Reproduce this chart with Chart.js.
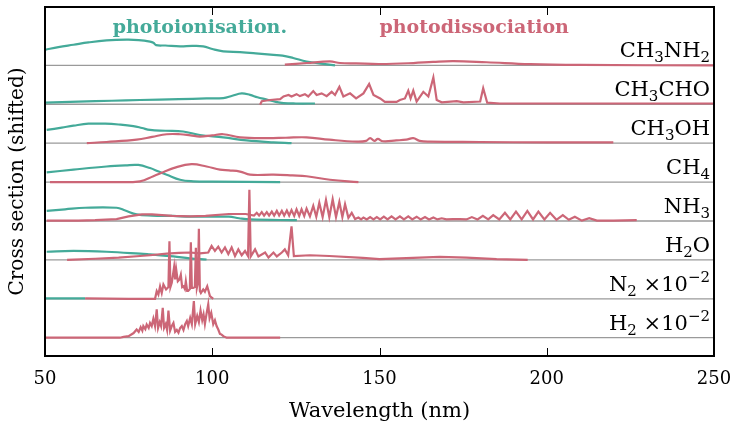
<!DOCTYPE html>
<html lang="en">
<head>
    <meta charset="UTF-8">
    <title>Cross sections (shifted)</title>
    <script src="https://cdn.jsdelivr.net/npm/chart.js"></script>
    <style>
        body {
            margin: 0;
            padding: 0;
            background-color: #fff;
        }
    </style>
</head>
<body>
    <canvas id="xsChart" width="734" height="425"></canvas>

    <script>
        // species from top to bottom, and their vertical shift
        const species = ['CH3NH2', 'CH3CHO', 'CH3OH', 'CH4', 'NH3', 'H2O', 'N2', 'H2'];
        const speciesLabels = ['CH_{3}NH_{2}', 'CH_{3}CHO', 'CH_{3}OH', 'CH_{4}', 'NH_{3}', 'H_{2}O',
                               'N_{2} \u00d710^{\u22122}', 'H_{2} \u00d710^{\u22122}'];
        const shifts = [7, 6, 5, 4, 3, 2, 1, 0];
        const wavelengthTicks = [50, 100, 150, 200, 250];

        // [wavelength (nm), cross section (shifted units)]
        const ch3nh2Ion = [[50,0.40],[54,0.47],[58.5,0.53],[63,0.59],[68.4,0.64],[74.4,0.66],[78,0.65],[81.4,0.61],[82.4,0.58],[83.2,0.52],[86,0.51],[90.4,0.49],[94,0.5],[97.3,0.49],[100,0.42],[103.3,0.36],[108.3,0.34],[113,0.31],[118.3,0.27],[121,0.25],[124.2,0.19],[128.2,0.1],[133.2,0.04],[136.7,0.0]];
        const ch3nh2Diss = [[121.7,0.02],[128.2,0.06],[135.2,0.1],[138.2,0.06],[143,0.05],[150.2,0.035],[160.1,0.06],[166,0.09],[172.1,0.11],[182,0.08],[195,0.03],[210,0.01],[249.8,0.0]];

        const ch3choIon = [[50,0.04],[60,0.07],[70,0.09],[78.4,0.11],[90,0.13],[98.3,0.15],[103.3,0.16],[106,0.22],[108.8,0.28],[111.3,0.24],[113.5,0.18],[116.3,0.12],[119,0.06],[121.3,0.03],[125,0.02],[130.7,0.02]];
        const ch3choDiss = [[114.3,-0.01],[114.8,0.08],[117.3,0.11],[120.3,0.13],[121.3,0.2],[122.8,0.24],[123.7,0.2],[125.2,0.26],[126.2,0.21],[127.7,0.26],[128.7,0.2],[130.2,0.34],[131.2,0.24],[132.7,0.28],[134.2,0.21],[135.7,0.32],[136.7,0.24],[138.0,0.45],[139.2,0.2],[141.2,0.28],[143.0,0.15],[145.2,0.28],[146.9,0.52],[148.2,0.24],[150.2,0.15],[151.6,0.06],[155.1,0.06],[156.1,0.11],[157.6,0.15],[158.6,0.35],[159.3,0.15],[160.1,0.35],[161.1,0.07],[163.1,0.32],[164.6,0.2],[166.1,0.69],[167.1,0.11],[168.6,0.05],[173.1,0.08],[175.1,0.05],[180.1,0.07],[181.0,0.41],[182.2,0.04],[186.0,0.02],[250,0.02]];

        const ch3ohIon = [[50.5,0.34],[55,0.4],[58.5,0.45],[63,0.5],[68,0.5],[72,0.48],[76.4,0.44],[79,0.39],[81.4,0.34],[86,0.32],[91.3,0.3],[96.3,0.21],[103.3,0.15],[110.3,0.07],[118.3,0.02],[123.7,0.0]];
        const ch3ohDiss = [[62.5,0.0],[68.4,0.03],[77.4,0.09],[82,0.16],[86.4,0.23],[90.4,0.23],[93.5,0.2],[96.3,0.17],[100,0.2],[103.3,0.23],[108.3,0.15],[116.3,0.13],[122,0.14],[128.2,0.15],[135,0.09],[143.2,0.04],[146,0.06],[147.2,0.13],[148.5,0.06],[149.5,0.11],[151,0.05],[155,0.07],[158,0.09],[160.1,0.13],[162,0.06],[165,0.04],[180,0.03],[200,0.02],[219.9,0.02]];

        const ch4Ion = [[50.5,0.25],[58.5,0.32],[68.4,0.4],[74,0.43],[77.9,0.44],[81.4,0.36],[84,0.27],[86.4,0.19],[90.4,0.06],[94.3,0.02],[100,0.01],[120.3,0.0]];
        const ch4Diss = [[51.5,0.0],[70,0.0],[78.4,0.02],[82.4,0.15],[85.5,0.26],[88.4,0.36],[93.8,0.46],[98.3,0.4],[102.3,0.32],[105,0.3],[108.3,0.27],[111.3,0.19],[118.3,0.19],[124,0.17],[128.2,0.15],[135.2,0.06],[143.7,0.0]];

        const nh3Ion = [[50.5,0.26],[56,0.3],[62,0.34],[71.4,0.34],[74,0.27],[77.4,0.17],[82,0.14],[88.4,0.13],[93.3,0.11],[105,0.11],[108,0.07],[111.3,0.04],[125.3,0.02]];
        const nh3Diss = [[50.5,0.01],[60,0.01],[65,0.02],[71.4,0.05],[75,0.12],[79,0.17],[82,0.17],[88,0.13],[93.3,0.12],[98,0.13],[105,0.18],[110,0.18],
            [112.5,0.14],[113.3,0.21],[114.0,0.14],[114.8,0.23],[115.5,0.14],[116.3,0.23],[117.0,0.14],[117.8,0.24],[118.5,0.14],[119.3,0.26],[120.0,0.14],[120.8,0.26],[121.5,0.14],[122.3,0.27],[123.0,0.14],[123.7,0.28],[124.5,0.13],[125.2,0.3],[126.0,0.13],[126.7,0.3],[127.5,0.13],[128.2,0.32],[129.2,0.12],[130.2,0.39],[131.1,0.11],[132.0,0.47],[133.0,0.1],[134.0,0.54],[135.0,0.1],[136.0,0.56],[137.0,0.1],[138.0,0.49],[138.9,0.1],[139.7,0.43],[140.7,0.08],[141.7,0.21],[142.7,0.05],
            [143.7,0.09],[144.5,0.04],[145.2,0.09],[146.2,0.04],[147.2,0.1],[148.2,0.04],[149.2,0.1],[150.2,0.04],[151.3,0.11],[152.4,0.04],[153.6,0.12],[154.8,0.04],[156.1,0.12],[157.3,0.04],[158.6,0.12],[159.8,0.04],[161.1,0.11],[162.3,0.04],[163.6,0.1],[164.8,0.04],[166.1,0.09],[167.3,0.04],[168.6,0.07],[170,0.04],[172,0.05],[174,0.05],[176,0.04],
            [177.6,0.1],[179.3,0.04],[180.9,0.13],[182.5,0.04],[184.0,0.15],[185.8,0.04],[187.5,0.21],[189.1,0.04],[190.8,0.24],[192.5,0.04],[194.2,0.26],[195.9,0.04],[197.5,0.24],[199.3,0.04],[201.0,0.21],[202.9,0.03],[204.8,0.15],[206.6,0.03],[208.4,0.11],[210.5,0.01],[212.7,0.07],[215,0.01],[220,0.01],[226.9,0.02]];

        const h2oIon = [[50.5,0.21],[58.5,0.23],[68.4,0.21],[78.4,0.16],[81.4,0.14],[88.4,0.09],[93.3,0.04],[98.3,0.01]];
        const h2oDiss = [[56.6,0.0],[65,0.03],[72,0.06],[78.4,0.1],[81.4,0.12],[86.4,0.16],[90,0.18],[93.3,0.19],[96.3,0.17],[98.8,0.19],[99.8,0.36],[100.8,0.23],[101.8,0.34],[102.8,0.19],[103.8,0.32],[104.8,0.15],[105.8,0.32],[106.8,0.1],[107.8,0.27],[108.8,0.12],[109.8,0.23],[110.7,0.1],[111.1,1.8],[111.5,0.09],[112.8,0.27],[113.8,0.09],[115.8,0.19],[116.8,0.06],[118.3,0.19],[119.3,0.09],[120.8,0.19],[121.7,0.27],[122.7,0.12],[123.7,0.86],[124.4,0.1],[129.2,0.12],[135,0.1],[145,0.05],[150,0.02],[160,0.05],[168,0.08],[176,0.06],[185,0.02],[194.3,0.0]];

        const n2Ion = [[50,0.01],[62,0.01]];
        const n2Diss = [[62,0.01],[75,0.0],[82.9,0.0],[83.4,0.2],[83.9,0.11],[84.4,0.32],[84.9,0.15],[85.4,0.37],[86.2,0.24],[86.9,0.3],[87.2,1.48],[87.5,0.3],[87.9,0.41],[88.6,0.82],[88.9,0.5],[89.2,0.77],[89.7,0.45],[90.2,0.5],[90.6,0.62],[91.0,0.3],[91.4,0.32],[91.8,0.25],[92.1,0.45],[92.5,0.2],[92.8,0.2],[93.3,0.25],[93.6,1.45],[93.9,0.28],[94.3,0.28],[94.8,0.3],[95.1,1.31],[95.4,0.28],[95.7,0.4],[96.0,1.8],[96.3,0.2],[96.6,0.15],[97.3,0.24],[97.8,0.18],[98.5,0.32],[98.9,0.2],[99.3,0.07],[100.3,0.0],[100.5,0.0]];

        const h2Diss = [[50,0.0],[72.4,0.0],[73.5,0.02],[75,0.04],[76.5,0.12],[77.4,0.21],[78,0.15],[78.6,0.27],[79.1,0.18],[79.4,0.3],[80,0.22],[80.4,0.34],[81,0.25],[81.4,0.38],[81.9,0.3],[82.4,0.49],[82.9,0.3],[83.4,0.73],[83.8,0.25],[84.3,0.4],[84.7,0.3],[85.2,0.77],[85.6,0.25],[86.1,0.35],[86.5,0.2],[86.9,0.7],[87.4,0.18],[87.9,0.3],[88.4,0.38],[88.9,0.15],[89.4,0.2],[89.9,0.13],[90.4,0.25],[90.9,0.3],[91.4,0.2],[91.9,0.35],[92.4,0.43],[92.8,0.3],[93.4,0.51],[93.9,0.35],[94.5,0.94],[94.9,0.35],[95.5,0.56],[96.0,0.4],[96.5,0.7],[97.0,0.45],[97.4,0.6],[97.8,0.35],[98.3,0.62],[98.8,0.86],[99.2,0.5],[99.7,0.64],[100.3,0.35],[100.8,0.45],[101.3,0.3],[101.8,0.21],[102.3,0.1],[102.8,0.08],[103.3,0.04],[104.3,0.0],[120.3,0.0]];

        const ionisation = [ch3nh2Ion, ch3choIon, ch3ohIon, ch4Ion, nh3Ion, h2oIon, n2Ion, null];
        const dissociation = [ch3nh2Diss, ch3choDiss, ch3ohDiss, ch4Diss, nh3Diss, h2oDiss, n2Diss, h2Diss];
        const smoothSeries = ['CH3NH2', 'CH3OH', 'CH4'];

        const TEAL = '#44AA99';
        const ROSE = '#CC6677';
        const GREY = '#9a9a9a';
        const FONT = "'DejaVu Serif', serif";

        function shifted(pairs, shift) {
            return pairs.map(p => ({ x: p[0], y: p[1] + shift }));
        }

        const datasets = [];
        species.forEach((name, i) => {
            datasets.push({
                label: name + ' photodissociation',
                data: shifted(dissociation[i], shifts[i]),
                borderColor: ROSE,
                borderWidth: 2.2,
                tension: smoothSeries.includes(name) ? 0.4 : 0,
                order: 0
            });
            if (ionisation[i]) {
                datasets.push({
                    label: name + ' photoionisation',
                    data: shifted(ionisation[i], shifts[i]),
                    borderColor: TEAL,
                    borderWidth: 2.2,
                    tension: 0.4,
                    order: 1
                });
            }
            datasets.push({
                label: name + ' baseline',
                data: [{ x: wavelengthTicks[0], y: shifts[i] }, { x: wavelengthTicks[wavelengthTicks.length - 1], y: shifts[i] }],
                borderColor: GREY,
                borderWidth: 1.3,
                order: 2
            });
        });

        // labels with sub/superscripts: 'CH_{3}' style
        function drawFormula(ctx, src, right, base) {
            const parts = src.match(/_\{[^}]*\}|\^\{[^}]*\}|[^_^]+/g);
            const pieces = parts.map(p => {
                if (p[0] === '_') return { t: p.slice(2, -1), size: 15, dy: 5 };
                if (p[0] === '^') return { t: p.slice(2, -1), size: 15, dy: -9 };
                return { t: p, size: 21, dy: 0 };
            });
            let total = 0;
            pieces.forEach(p => {
                ctx.font = p.size + 'px ' + FONT;
                p.w = ctx.measureText(p.t).width;
                total += p.w;
            });
            let x = right - total;
            pieces.forEach(p => {
                ctx.font = p.size + 'px ' + FONT;
                ctx.fillText(p.t, x, base + p.dy);
                x += p.w;
            });
        }

        const decorPlugin = {
            id: 'decor',
            afterDraw(chart) {
                const ctx = chart.ctx;
                const area = chart.chartArea;
                const xs = chart.scales.x;
                const ys = chart.scales.y;
                ctx.save();

                // inward ticks top and bottom
                ctx.strokeStyle = '#000';
                ctx.lineWidth = 1;
                wavelengthTicks.slice(1, -1).forEach(v => {
                    const px = Math.round(xs.getPixelForValue(v)) + 0.5;
                    ctx.beginPath();
                    ctx.moveTo(px, area.bottom);
                    ctx.lineTo(px, area.bottom - 8);
                    ctx.moveTo(px, area.top);
                    ctx.lineTo(px, area.top + 8);
                    ctx.stroke();
                });

                // frame
                ctx.lineWidth = 2;
                ctx.strokeRect(area.left, area.top, area.right - area.left, area.bottom - area.top);

                // molecule labels
                ctx.fillStyle = '#000';
                ctx.textAlign = 'left';
                ctx.textBaseline = 'alphabetic';
                speciesLabels.forEach((lbl, i) => {
                    drawFormula(ctx, lbl, area.right - 4, ys.getPixelForValue(shifts[i]) - 8);
                });

                // process names
                ctx.font = 'bold 19px ' + FONT;
                ctx.fillStyle = TEAL;
                ctx.textAlign = 'center';
                ctx.fillText('photoionisation.', xs.getPixelForValue(96.3), area.top + 26);
                ctx.fillStyle = ROSE;
                ctx.textAlign = 'left';
                ctx.fillText('photodissociation', xs.getPixelForValue(150), area.top + 26);
                ctx.restore();
            }
        };

        const ctx = document.getElementById('xsChart').getContext('2d');
        const chart = new Chart(ctx, {
            type: 'line',
            data: { datasets: datasets },
            options: {
                responsive: false,
                animation: false,
                layout: { padding: { top: 7, right: 20, left: 0, bottom: 0 } },
                elements: { point: { radius: 0 }, line: { fill: false } },
                plugins: { legend: { display: false }, tooltip: { enabled: false } },
                scales: {
                    x: {
                        type: 'linear',
                        min: 50,
                        max: 250,
                        afterFit: s => {
                            s.height = 69;
                            s.paddingLeft = 0;
                            s.paddingRight = 0;
                        },
                        afterBuildTicks: s => { s.ticks = wavelengthTicks.map(v => ({ value: v })); },
                        grid: { display: false, drawTicks: false },
                        border: { display: false },
                        ticks: { color: '#000', padding: 13, font: { family: FONT, size: 18 } },
                        title: {
                            display: true,
                            text: 'Wavelength (nm)',
                            color: '#000',
                            font: { family: FONT, size: 21 },
                            padding: { top: 0, bottom: 1 }
                        }
                    },
                    y: {
                        type: 'linear',
                        min: -0.47,
                        max: 8.5,
                        afterFit: s => {
                            s.width = 45;
                            s.paddingTop = 0;
                            s.paddingBottom = 0;
                        },
                        grid: { display: false, drawTicks: false },
                        border: { display: false },
                        ticks: { display: false },
                        title: {
                            display: true,
                            text: 'Cross section (shifted)',
                            color: '#000',
                            font: { family: FONT, size: 20 },
                            padding: { top: 6, bottom: 0 }
                        }
                    }
                }
            },
            plugins: [decorPlugin]
        });
    </script>
</body>
</html>
